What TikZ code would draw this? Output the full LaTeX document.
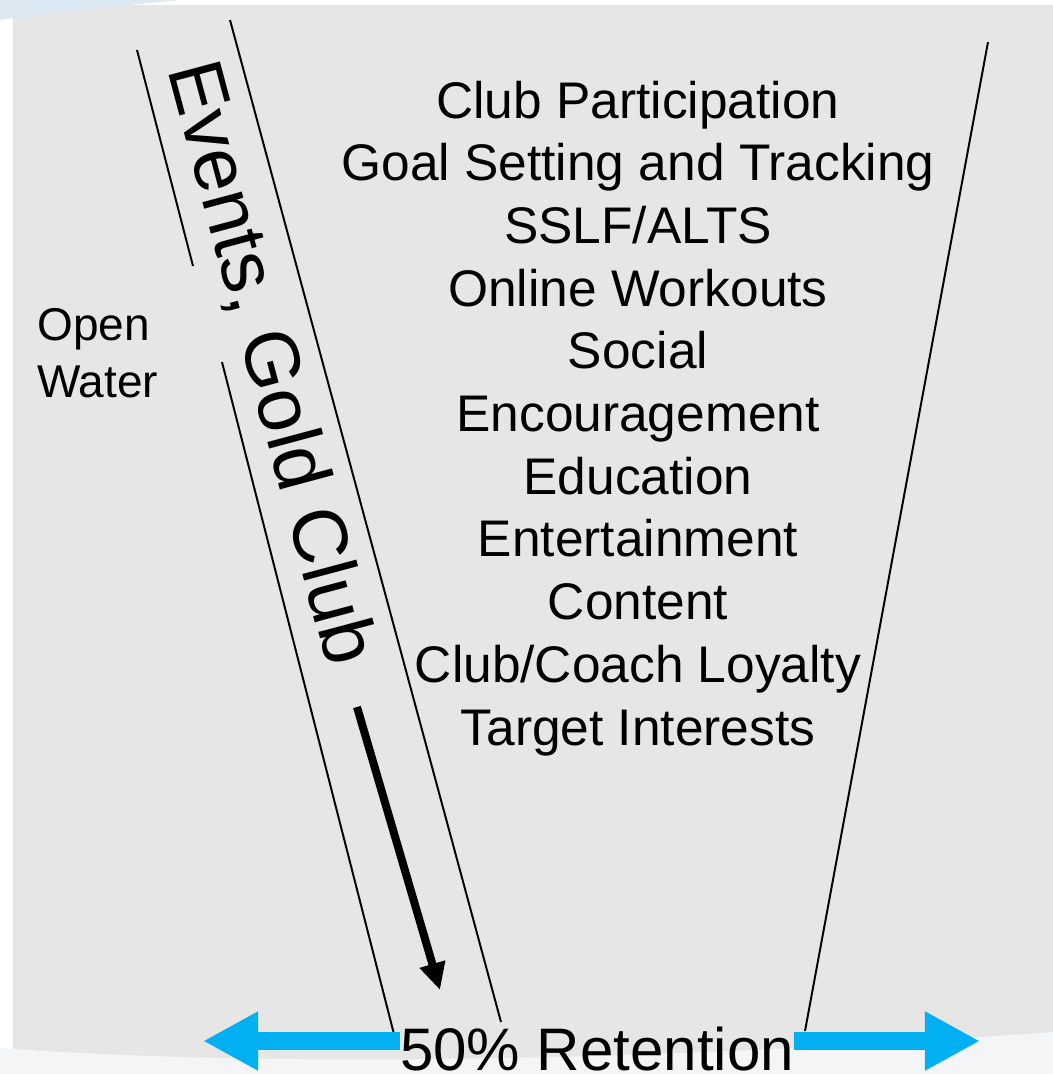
\documentclass[tikz,border=0pt]{standalone}
\usepackage{fontspec}
\setmainfont{Liberation Sans}
\usepackage{xcolor}
\usetikzlibrary{arrows.meta}

\definecolor{panelgrey}{HTML}{E6E6E6}
\definecolor{floorwhite}{HTML}{F3F5F7}
\definecolor{haze}{HTML}{DCE8F2}
\definecolor{arrowblue}{HTML}{00B0F0}

\begin{document}
\begin{tikzpicture}[x=0.025cm, y=-0.025cm,
    item/.style={inner sep=0pt, anchor=base, font=\fontsize{36.6}{44}\selectfont},
    side/.style={inner sep=0pt, anchor=base west, font=\fontsize{32.7}{40}\selectfont},
    wall/.style={line width=1.4pt},
    push/.style={line width=12.8pt, arrowblue, -{Triangle[length=1.375cm, width=1.375cm]}}]
        \useasboundingbox (0,0) rectangle (1053,1074);
        \fill[white] (0,0) rectangle (1053,1074);
        \fill[panelgrey] (13,5) rectangle (1053,1074);
        \fill[floorwhite] (0,1048) .. controls (300,1070) and (700,1058) .. (1053,1032) -- (1053,1074) -- (0,1074) -- cycle;
        \fill[haze] (0,0) -- (180,0) .. controls (120,6) and (50,12) .. (0,20) -- cycle;

        % funnel walls
        \draw[wall] (137,50) -- (193,266);
        \draw[wall] (222,362) -- (395,1038);
        \draw[wall] (230,20) -- (501,1022);
        \draw[wall] (988,42) -- (805,1031);

        \node[inner sep=0pt, rotate=-75, font=\fontsize{54.8}{60}\selectfont] (events) at (270,363) {Events, Gold Club};

        \node[side] (open) at (37,340) {Open};
        \node[side] (water) at (37,397) {Water};

        \node[item] (participation) at (638,118) {Club Participation};
        \node[item] (goals) at (638,180.7) {Goal Setting and Tracking};
        \node[item] (sslf) at (638,243.4) {SSLF/ALTS};
        \node[item] (workouts) at (638,306.1) {Online Workouts};
        \node[item] (social) at (638,368.8) {Social};
        \node[item] (encouragement) at (638,431.5) {Encouragement};
        \node[item] (education) at (638,494.2) {Education};
        \node[item] (entertainment) at (638,556.9) {Entertainment};
        \node[item] (content) at (638,619.6) {Content};
        \node[item] (loyalty) at (638,682.3) {Club/Coach Loyalty};
        \node[item] (interests) at (638,745) {Target Interests};

        \coordinate (flow-start) at (357,707);
        \coordinate (flow-end) at (440,990);
        \draw[line width=5.7pt, -{Triangle[length=0.675cm, width=0.625cm]}] (flow-start) -- (flow-end);

        \node[inner sep=0pt, anchor=base, font=\fontsize{42.7}{50}\selectfont] (retention) at (597,1070) {50\% Retention};

        \coordinate (left-tip) at (203,1041);
        \coordinate (right-tip) at (980,1041);
        \draw[push] (retention.west |- left-tip) -- (left-tip);
        \draw[push] (retention.east |- right-tip) -- (right-tip);
    \end{tikzpicture}
\end{document}
